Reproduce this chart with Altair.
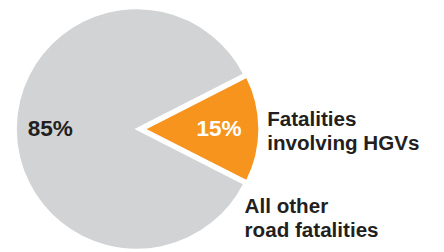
import math
import altair as alt
import pandas as pd

# ---- data ----
keys = ["other", "hgv"]
categories = ["All other\nroad fatalities", "Fatalities\ninvolving HGVs"]
values = [85, 15]
pct_labels = ["85%", "15%"]
order = [1, 0]
colors = ["#d1d3d4", "#f7941d"]
text_colors = ["#231f20", "#ffffff"]

df = pd.DataFrame({
    "key": keys,
    "category": categories,
    "value": values,
    "pct": pct_labels,
    "order": order,
})
total = sum(values)
start = math.pi / 2 - math.pi * values[1] / total

FONT = "Liberation Sans"
CX, CY = 131, 121
OFF = 8

base = alt.Chart(df).transform_stack(
    stack="value", groupby=[], as_=["v0", "v1"], sort=[alt.SortField("order")]
).transform_calculate(
    ang=f"{start} + 2 * PI * ((datum.v0 + datum.v1) / 2) / {total}"
)

theta_scale = alt.Scale(domain=[0, total], range=[start, start + 2 * math.pi])
color_scale = alt.Scale(domain=keys, range=colors)
tcolor_scale = alt.Scale(domain=keys, range=text_colors)

gray = base.transform_filter("datum.key == 'other'").mark_arc(
    radius=123, stroke="white", strokeWidth=2
).encode(
    theta=alt.Theta("v0:Q", scale=theta_scale),
    theta2="v1:Q",
    color=alt.Color("key:N", scale=color_scale, legend=None),
    x=alt.value(CX), y=alt.value(CY),
)

orange = base.transform_filter("datum.key == 'hgv'").mark_arc(
    radius=117, stroke="white", strokeWidth=2
).encode(
    theta=alt.Theta("v0:Q", scale=theta_scale),
    theta2="v1:Q",
    color=alt.Color("key:N", scale=color_scale, legend=None),
    x=alt.value(CX + OFF), y=alt.value(CY),
)

pct = base.transform_calculate(
    r=f"datum.key == 'hgv' ? 76 : 88",
    off=f"datum.key == 'hgv' ? {OFF} : 0",
).transform_calculate(
    px=f"{CX} + datum.off + datum.r * sin(datum.ang)",
    py=f"{CY} - datum.r * cos(datum.ang)",
).mark_text(
    font=FONT, fontSize=23, fontWeight="bold", baseline="middle", align="center"
).encode(
    x=alt.X("px:Q", scale=None),
    y=alt.Y("py:Q", scale=None),
    text="pct:N",
    color=alt.Color("key:N", scale=tcolor_scale, legend=None),
)

lab_hgv = base.transform_filter("datum.key == 'hgv'").mark_text(
    font=FONT, fontSize=21, fontWeight="bold", align="left", baseline="alphabetic",
    lineBreak="\n", lineHeight=24, color="#231f20"
).encode(text="category:N", x=alt.value(264), y=alt.value(118))

lab_other = base.transform_filter("datum.key == 'other'").mark_text(
    font=FONT, fontSize=21, fontWeight="bold", align="left", baseline="alphabetic",
    lineBreak="\n", lineHeight=24, color="#231f20"
).encode(text="category:N", x=alt.value(241), y=alt.value(207))

chart = alt.layer(gray, orange, pct, lab_hgv, lab_other).resolve_scale(
    color="independent"
).properties(
    width=436, height=244, padding=0, autosize="none"
).configure_view(stroke=None)

chart.save("out.html", embed_options={"renderer": "svg", "actions": False})
